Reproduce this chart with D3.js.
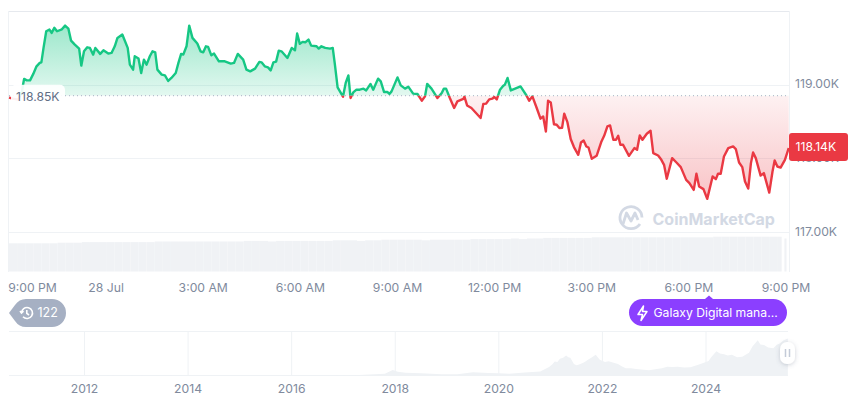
<!DOCTYPE html>
<html>
<head>
<meta charset="utf-8">
<script src="https://cdn.jsdelivr.net/npm/d3@7"></script>
<style>
html, body { margin: 0; padding: 0; background: #fff; }
svg { display: block; }
text { font-family: Inter, "Noto Sans", sans-serif; }
.tick_label { fill: #808a9d; font-size: 12.2px; }
</style>
</head>
<body>
<svg id="chart" width="860" height="401"></svg>
<script>
// minutes after 9:00 PM, price in thousands
const price_minutes = [0,7,17,24,26,28,33,39,45,51,57,60,64,69,75,79,84,89,98,104,110,115,122,130,134,139,145,150,156,160,169,175,184,190,196,201,210,220,224,230,233,240,245,250,255,261,266,271,275,283,289,295,301,309,314,319,323,329,334,340,349,355,360,365,369,375,380,389,400,411,417,424,434,440,447,456,464,468,474,480,485,490,495,500,505,516,524,530,534,539,544,549,555,560,570,574,579,586,595,600,604,609,616,619,624,629,633,638,644,650,657,662,670,675,684,689,695,701,705,709,720,726,734,740,749,757,765,771,775,783,794,802,806,810,817,825,831,842,844,849,857,874,879,884,890,896,899,904,910,916,919,924,930,938,948,959,964,970,978,985,990,995,999,1004,1010,1015,1020,1025,1029,1035,1041,1047,1055,1060,1065,1070,1074,1080,1089,1098,1103,1109,1114,1120,1125,1129,1133,1138,1149,1159,1164,1169,1174,1182,1189,1194,1203,1209,1214,1219,1229,1237,1245,1255,1261,1269,1274,1279,1287,1294,1304,1310,1314,1319,1325,1333,1342,1347,1353,1359,1364,1370,1375,1379,1384,1393,1399,1409,1415,1419,1424,1430,1438,1445];
const price_values = [118.823,118.81,118.796,118.905,119.0,119.078,119.058,119.058,119.146,119.249,119.295,119.303,119.499,119.725,119.748,119.703,119.771,119.725,119.752,119.802,119.762,119.598,119.544,119.49,119.258,119.453,119.507,119.499,119.408,119.499,119.418,119.466,119.422,119.431,119.521,119.635,119.68,119.499,119.272,119.204,119.385,119.354,119.159,119.34,119.272,119.385,119.453,119.439,119.204,119.136,119.126,119.05,119.091,119.159,119.295,119.418,119.408,119.521,119.802,119.635,119.558,119.453,119.439,119.521,119.513,119.398,119.422,119.317,119.317,119.286,119.295,119.418,119.34,119.204,119.181,119.218,119.309,119.303,119.249,119.235,119.194,119.303,119.313,119.462,119.453,119.363,119.499,119.466,119.694,119.554,119.581,119.575,119.612,119.53,119.521,119.49,119.521,119.499,119.49,119.499,119.272,118.963,118.874,118.837,119.023,119.126,118.819,118.895,118.932,118.932,118.946,118.922,119.01,118.932,119.082,119.045,118.901,118.901,118.874,118.909,119.099,118.99,118.946,118.973,118.878,118.874,118.782,118.841,119.01,118.946,118.819,118.887,118.946,118.946,118.819,118.683,118.773,118.806,118.837,118.718,118.683,118.547,118.738,118.742,118.8,118.81,118.833,118.8,118.932,118.986,119.0,119.091,118.922,118.946,118.977,118.854,118.782,118.841,118.683,118.538,118.569,118.365,118.782,118.759,118.463,118.456,118.411,118.415,118.606,118.487,118.262,118.153,118.048,118.215,118.242,118.161,118.147,117.994,118.034,118.229,118.306,118.433,118.446,118.252,118.252,118.306,118.184,118.184,118.034,118.139,118.116,118.31,118.252,118.334,118.374,118.071,118.038,117.98,117.912,117.722,118.003,117.943,117.881,117.708,117.663,117.572,117.79,117.617,117.582,117.45,117.753,117.718,117.79,117.79,118.025,118.139,118.161,118.126,117.943,117.881,117.685,117.59,117.935,118.079,118.003,117.766,117.799,117.535,117.821,117.97,117.889,117.875,117.98,118.14];
const base_price = 118.85;

// volume bars, one per 15 minutes, then the short ones at the end
const volume_minutes = [0,15,30,45,60,75,90,105,120,135,150,165,180,195,210,225,240,255,270,285,300,315,330,345,360,375,390,405,420,435,450,465,480,495,510,525,540,555,570,585,600,615,630,645,660,675,690,705,720,735,750,765,780,795,810,825,840,855,870,885,900,915,930,945,960,975,990,1005,1020,1035,1050,1065,1080,1095,1110,1125,1140,1155,1170,1185,1200,1215,1230,1245,1260,1275,1290,1305,1320,1335,1350,1365,1380,1395,1410,1425,1432,1437];
const volume_values = [47,47,47,47,47,47,48,48,48,49,49,49,49,49,49,49,49,49,50,50,50,50,50,50,50,50,50,50,50,51,51,51,50,51,51,51,51,51,51,51,52,52,52,51,52,52,53,53,53,53,53,52,53,53,53,53,53,54,54,54,54,54,55,54,55,55,56,56,56,56,56,56,57,57,57,57,57,57,57,57,57,57,57,57,57,57,57,58,58,58,58,58,58,58,58,58,0,55];

const main_ticks = [117,118,119,120];
const time_tick_minutes = [0,180,360,540,720,900,1080,1260,1440];
const time_tick_labels = ["9:00 PM","28 Jul","3:00 AM","6:00 AM","9:00 AM","12:00 PM","3:00 PM","6:00 PM","9:00 PM"];

// whole history strip: decimal year, price in thousands
const history_years = [2010.55,2012,2014,2016,2016.8,2017.3,2017.6,2017.8,2017.95,2018.05,2018.2,2018.5,2018.9,2019.2,2019.5,2019.8,2020.0,2020.2,2020.5,2020.8,2020.97,2021.03,2021.08,2021.13,2021.18,2021.24,2021.3,2021.34,2021.38,2021.45,2021.5,2021.55,2021.63,2021.68,2021.72,2021.8,2021.87,2021.95,2022.05,2022.12,2022.2,2022.3,2022.38,2022.45,2022.55,2022.65,2022.75,2022.9,2023.05,2023.15,2023.25,2023.35,2023.45,2023.58,2023.7,2023.85,2024.0,2024.05,2024.1,2024.2,2024.27,2024.35,2024.42,2024.5,2024.6,2024.7,2024.83,2024.9,2024.95,2025.0,2025.05,2025.12,2025.2,2025.3,2025.36,2025.42,2025.5,2025.58];
const history_values = [0.1,0.1,0.5,0.5,0.8,2,4,6,18,12,9,7,4,4,11,8,7.5,6,9.5,13,28,36,46,44,55,58,66,60,58,38,34,36,42,47,52,60,68,52,44,47,43,38,30,24,24,21,20,17,21,24,29,28,29,26,27,35,44,48,60,80,72,70,66,68,60,62,75,96,106,116,102,100,92,90,100,105,116,122];
const history_tick_years = [2012,2014,2016,2018,2020,2022,2024];

const svg = d3.select("#chart");
const defs = svg.append("defs");

const x = d3.scaleLinear().domain([0,1440]).range([9,786]);
const y = d3.scaleLinear().domain([117,120]).range([232,11]);
const volume_y = d3.scaleLinear().domain([0,65]).range([271.5,232.5]);
const history_x = d3.scaleLinear().domain([2012,2024]).range([84.5,706]);
const history_y = d3.scaleLinear().domain([0,125]).range([375.5,337.5]);

const price_points = price_minutes.map((m,i) => [m, price_values[i]]);
const base_y = y(base_price);

// grid and frame
const grid = svg.append("g").attr("stroke", "#eff2f5").attr("fill", "none");
grid.selectAll("line.h").data(main_ticks).enter().append("line")
	.attr("x1", 9).attr("x2", 789)
	.attr("y1", (d) => Math.round(y(d)) + 0.5)
	.attr("y2", (d) => Math.round(y(d)) + 0.5)
	.attr("stroke", (d) => d == 120 ? "#e6e9ee" : "#eff2f5");
grid.append("line").attr("x1", 8.5).attr("x2", 8.5).attr("y1", 11).attr("y2", 272);
grid.append("line").attr("x1", 789.5).attr("x2", 789.5).attr("y1", 11).attr("y2", 272);

// volume
svg.append("g").selectAll("rect").data(volume_values).enter().append("rect")
	.attr("x", (d,i) => x(volume_minutes[i]))
	.attr("y", (d) => volume_y(d))
	.attr("width", (d,i) => x(i+1 < volume_minutes.length ? volume_minutes[i+1] : 1441) - x(volume_minutes[i]))
	.attr("height", (d) => volume_y(0) - volume_y(d))
	.attr("fill", "#f0f2f5");

// area and line, split on the open price
function add_gradient(id, y1, y2, colour, o1, o2) {
	const g = defs.append("linearGradient").attr("id", id)
		.attr("gradientUnits", "userSpaceOnUse")
		.attr("x1", 0).attr("x2", 0).attr("y1", y1).attr("y2", y2);
	g.append("stop").attr("offset", 0).attr("stop-color", colour).attr("stop-opacity", o1);
	g.append("stop").attr("offset", 1).attr("stop-color", colour).attr("stop-opacity", o2);
}
add_gradient("green_fill", y(119.8), base_y, "#16c784", 0.42, 0.12);
add_gradient("red_fill", base_y, y(117.45), "#ea3943", 0.07, 0.3);

defs.append("clipPath").attr("id", "above").append("rect")
	.attr("x", 0).attr("y", 0).attr("width", 789).attr("height", base_y);
defs.append("clipPath").attr("id", "below").append("rect")
	.attr("x", 0).attr("y", base_y).attr("width", 789).attr("height", 300);

const area = d3.area().x((d) => x(d[0])).y0(base_y).y1((d) => y(d[1]));
const line = d3.line().x((d) => x(d[0])).y((d) => y(d[1]));

svg.append("path").attr("d", area(price_points)).attr("fill", "url(#green_fill)").attr("clip-path", "url(#above)");
svg.append("path").attr("d", area(price_points)).attr("fill", "url(#red_fill)").attr("clip-path", "url(#below)");

svg.append("line")
	.attr("x1", 9).attr("x2", 789).attr("y1", base_y).attr("y2", base_y)
	.attr("stroke", "#a6b0c3").attr("stroke-width", 1).attr("stroke-dasharray", "1 3");

svg.append("path").attr("d", line(price_points)).attr("fill", "none")
	.attr("stroke", "#16c784").attr("stroke-width", 2.4).attr("stroke-linejoin", "round")
	.attr("clip-path", "url(#above)");
svg.append("path").attr("d", line(price_points)).attr("fill", "none")
	.attr("stroke", "#ea3943").attr("stroke-width", 2.4).attr("stroke-linejoin", "round")
	.attr("clip-path", "url(#below)");

// open price label
svg.append("rect").attr("x", 11).attr("y", base_y - 11).attr("width", 54).attr("height", 21)
	.attr("rx", 5).attr("fill", "#fff").attr("fill-opacity", 0.92);
svg.append("text").attr("x", 16).attr("y", base_y + 1).attr("dy", "0.35em")
	.attr("font-size", 12.2).attr("fill", "#616e85").text("118.85K");

// watermark
const mark = svg.append("g").attr("fill", "none").attr("stroke", "#d3d9e4").attr("stroke-width", 2.8);
mark.append("path").attr("d", "M640 224 A11 11 0 1 1 642 217.5");
mark.append("path").attr("d", "M623 224 L626.5 213 L631 221 L635 213 L638 220").attr("stroke-linejoin", "round");
svg.append("text").attr("x", 652.5).attr("y", 224.5).attr("font-size", 16).attr("font-weight", 700)
	.attr("fill", "#d3d9e4").text("CoinMarketCap");

// right axis
svg.append("g").selectAll("text").data([119,118,117]).enter().append("text")
	.classed("tick_label", true)
	.attr("x", 795).attr("y", (d) => y(d) - 0.5).attr("dy", "0.35em")
	.text((d) => d.toFixed(2) + "K");

svg.append("rect").attr("x", 789).attr("y", 133).attr("width", 59).attr("height", 28)
	.attr("rx", 3).attr("fill", "#ea3943");
svg.append("text").attr("x", 795.5).attr("y", 147).attr("dy", "0.35em")
	.attr("font-size", 12.2).attr("fill", "#fff")
	.text(price_values[price_values.length-1].toFixed(2) + "K");

// time axis
svg.append("g").selectAll("text").data(time_tick_minutes).enter().append("text")
	.classed("tick_label", true)
	.attr("x", (d,i) => i == 0 ? 32.5 : x(d))
	.attr("y", 288).attr("dy", "0.35em").attr("text-anchor", "middle")
	.text((d,i) => time_tick_labels[i]);

// history strip
const history_points = history_years.map((yr,i) => [yr, history_values[i]]);
svg.append("line").attr("x1", 9).attr("x2", 788).attr("y1", 331.5).attr("y2", 331.5).attr("stroke", "#eff2f5");
svg.append("line").attr("x1", 9).attr("x2", 788).attr("y1", 375.5).attr("y2", 375.5).attr("stroke", "#eff2f5");
svg.append("g").selectAll("line").data(history_tick_years).enter().append("line")
	.attr("x1", (d) => history_x(d)).attr("x2", (d) => history_x(d))
	.attr("y1", 332).attr("y2", 375).attr("stroke", "#eff2f5");
svg.append("path")
	.attr("d", d3.area().x((d) => history_x(d[0])).y0(history_y(0)).y1((d) => history_y(d[1]))(history_points))
	.attr("fill", "#eff2f5");
svg.append("g").selectAll("text").data(history_tick_years).enter().append("text")
	.classed("tick_label", true)
	.attr("x", (d) => history_x(d)).attr("y", 389).attr("dy", "0.35em").attr("text-anchor", "middle")
	.text((d) => d);

// slider handle
defs.append("filter").attr("id", "handle_shadow").attr("x", "-50%").attr("y", "-50%").attr("width", "200%").attr("height", "200%")
	.append("feDropShadow").attr("dx", 0).attr("dy", 1).attr("stdDeviation", 2).attr("flood-color", "#58667e").attr("flood-opacity", 0.3);
svg.append("rect").attr("x", 780).attr("y", 342).attr("width", 15).attr("height", 22).attr("rx", 7)
	.attr("fill", "#fff").attr("filter", "url(#handle_shadow)");
svg.append("path").attr("d", "M785.5 349 V357 M789.5 349 V357").attr("stroke", "#c4cbd8").attr("stroke-width", 1.5);

// history pill
svg.append("path").attr("d", "M9 313 L15 305 Q19 299 26 299 H52 A14 14 0 0 1 52 327 H26 Q19 327 15 321 Z").attr("fill", "#a6b0c3");
const clock = svg.append("g").attr("fill", "none").attr("stroke", "#fff").attr("stroke-width", 1.6);
clock.append("path").attr("d", "M21.5 313 A5.5 5.5 0 1 1 23 316.8 M20 311 L21.5 313 L23.5 311.2 M26.8 310 V313.3 L29 315");
svg.append("text").attr("x", 37.5).attr("y", 313).attr("dy", "0.35em").attr("font-size", 12.5).attr("fill", "#fff").text("122");

// news pill
svg.append("path").attr("d", "M705 299 L709 295.5 L713 299 Z").attr("fill", "#8b3fff");
svg.append("rect").attr("x", 629).attr("y", 299).attr("width", 158).attr("height", 27).attr("rx", 13.5).attr("fill", "#8b3fff");
svg.append("path").attr("d", "M643.5 306 L638 314.5 H642.5 L641 320.5 L647 311.5 H642.5 Z")
	.attr("fill", "none").attr("stroke", "#fff").attr("stroke-width", 1.5).attr("stroke-linejoin", "round");
svg.append("text").attr("x", 653.5).attr("y", 312.5).attr("dy", "0.35em").attr("font-size", 12.2).attr("fill", "#fff").text("Galaxy Digital mana...");
</script>
</body>
</html>
